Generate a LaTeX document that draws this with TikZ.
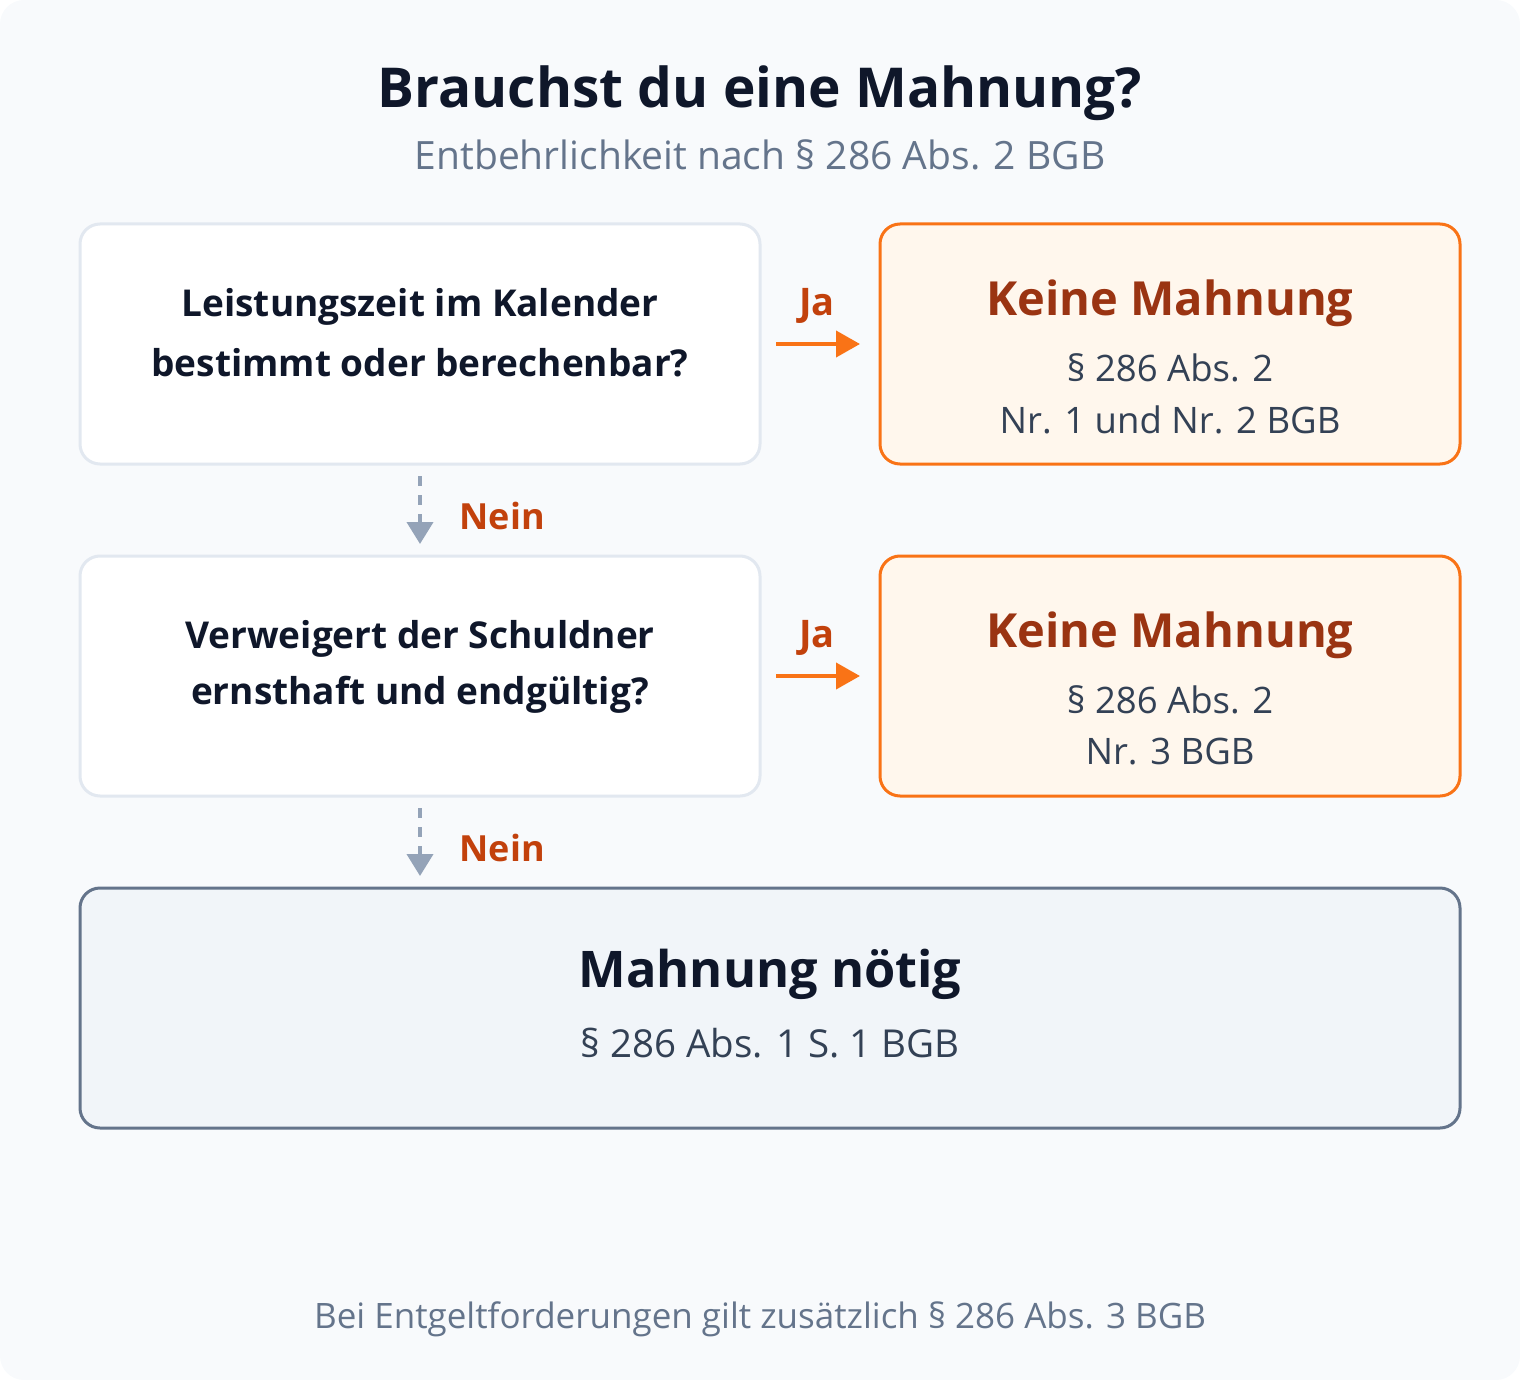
\documentclass[tikz,border=0pt]{standalone}
\usepackage{fontspec}
\setmainfont{Open Sans}
\usetikzlibrary{arrows.meta}
\definecolor{bgc}{HTML}{F8FAFC}
\definecolor{lightb}{HTML}{E2E8F0}
\definecolor{orb}{HTML}{F97316}
\definecolor{orf}{HTML}{FFF7ED}
\definecolor{ortitle}{HTML}{9A3412}
\definecolor{orlab}{HTML}{C2410C}
\definecolor{dark}{HTML}{0F172A}
\definecolor{body}{HTML}{334155}
\definecolor{sub}{HTML}{64748B}
\definecolor{grayarr}{HTML}{94A3B8}
\definecolor{endf}{HTML}{F1F5F9}
\tikzset{
  qbox/.style={draw=lightb, line width=3pt, fill=white, rounded corners=20pt},
  obox/.style={draw=orb, line width=3pt, fill=orf, rounded corners=20pt},
  ebox/.style={draw=sub, line width=3pt, fill=endf, rounded corners=20pt},
  qtext/.style={text=dark, font=\fontsize{37}{60}\selectfont\bfseries, align=center},
  otitle/.style={text=ortitle, font=\fontsize{47}{50}\selectfont\bfseries},
  otext/.style={text=body, font=\fontsize{36.5}{52}\selectfont, align=center},
  jalab/.style={text=orlab, font=\fontsize{36}{40}\selectfont\bfseries},
  yesarrow/.style={draw=orb, line width=4pt, -{Triangle[width=26pt,length=24pt]}},
  noarrow/.style={draw=grayarr, line width=4pt, dash pattern=on 10pt off 9pt, -{Triangle[width=26pt,length=22pt]}},
}
\begin{document}
\begin{tikzpicture}[x=1pt,y=-1pt]
\useasboundingbox (0,0) rectangle (1520,1380);
\fill[bgc, rounded corners=24pt] (0,0) rectangle (1520,1380);

\node[text=dark, font=\fontsize{55}{60}\selectfont\bfseries] (title) at (760,93) {Brauchst du eine Mahnung?};
\node[text=sub, font=\fontsize{39}{40}\selectfont] (subtitle) at (760,155) {Entbehrlichkeit nach § 286 Abs. 2 BGB};

% boxes
\draw[qbox] (80,224) rectangle (760,464);
\coordinate (q1e) at (776,344);
\coordinate (q1s) at (420,476);
\draw[obox] (880,224) rectangle (1460,464);
\coordinate (o1w) at (860,344);
\draw[qbox] (80,556) rectangle (760,796);
\coordinate (q2n) at (420,544);
\coordinate (q2e) at (776,676);
\coordinate (q2s) at (420,808);
\draw[obox] (880,556) rectangle (1460,796);
\coordinate (o2w) at (860,676);
\draw[ebox] (80,888) rectangle (1460,1128);
\coordinate (en) at (420,876);

% texts
\node[qtext] (q1a) at (420,307) {Leistungszeit im Kalender};
\node[qtext] (q1b) at (420,363) {bestimmt oder berechenbar?};
\node[otitle] (o1t) at (1170,303) {Keine Mahnung};
\node[otext] (o1a) at (1170,368) {§ 286 Abs. 2};
\node[otext] (o1b) at (1170,420) {Nr. 1 und Nr. 2 BGB};

\node[qtext] (q2a) at (420,639) {Verweigert der Schuldner};
\node[qtext] (q2b) at (420,695) {ernsthaft und endgültig?};
\node[otitle] (o2t) at (1170,635) {Keine Mahnung};
\node[otext] (o2a) at (1170,700) {§ 286 Abs. 2};
\node[otext] (o2b) at (1170,752) {Nr. 3 BGB};

\node[text=dark, font=\fontsize{50.5}{54}\selectfont\bfseries] (et) at (770,974) {Mahnung nötig};
\node[text=body, font=\fontsize{38.5}{52}\selectfont] (ea) at (770,1043) {§ 286 Abs. 1 S. 1 BGB};

% connectors
\draw[yesarrow] (q1e) -- (o1w);
\node[jalab, font=\fontsize{38}{40}\selectfont\bfseries] (ja1) at (817,306) {Ja};
\draw[noarrow] (q1s) -- (q2n);
\node[jalab, anchor=west] (nein1) at (456,516) {Nein};
\draw[yesarrow] (q2e) -- (o2w);
\node[jalab, font=\fontsize{38}{40}\selectfont\bfseries] (ja2) at (817,638) {Ja};
\draw[noarrow] (q2s) -- (en);
\node[jalab, anchor=west] (nein2) at (456,848) {Nein};

\node[text=sub, font=\fontsize{35}{36}\selectfont] (foot) at (760,1319) {Bei Entgeltforderungen gilt zusätzlich § 286 Abs. 3 BGB};
\end{tikzpicture}
\end{document}
